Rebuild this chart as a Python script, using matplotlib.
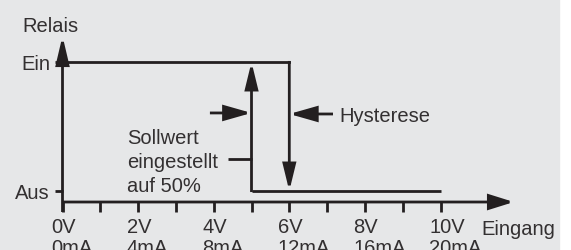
import matplotlib
matplotlib.use("Agg")
import matplotlib.pyplot as plt
from matplotlib.patches import FancyArrowPatch, Rectangle

# data
volt_ticks = [0, 1, 2, 3, 4, 5, 6, 7, 8, 9, 10]
label_volts = [0, 2, 4, 6, 8, 10]
v_labels = ["0V", "2V", "4V", "6V", "8V", "10V"]
ma_labels = ["0mA", "4mA", "8mA", "12mA", "16mA", "20mA"]
level_names = ["Aus", "Ein"]
level_values = [0, 1]
setpoint = 5        # Sollwert 50%
switch_off = 6      # setpoint + hysteresis
input_max = 10

ink = "#231f20"
txt = "#333031"
gray = "#e6e7e8"
plt.rcParams['font.family'] = ['Liberation Sans', 'DejaVu Sans']
fs = 14.5

fig = plt.figure(figsize=(5.71, 2.51), dpi=100, facecolor="white")
fig.patches.append(Rectangle((0, 0), 559 / 571, 1, transform=fig.transFigure,
                             color=gray, zorder=-5))
ax = fig.add_axes([0, 0, 1, 1])
ax.set_zorder(2)
ax.set_facecolor("none")
ax.axis("off")
ax.set_xlim(-62.5 / 37.8, (571 - 62.5) / 37.8)
ax.set_ylim(-59 / 129, 192 / 129)

lw = 2.0
ax_y = -0.0853
tick_low = -0.1628


def arrow(p0, p1, hl=16, hw=4):
    a = FancyArrowPatch(p0, p1, arrowstyle="-|>,head_length=%g,head_width=%g" % (hl, hw),
                        mutation_scale=1, shrinkA=0, shrinkB=0, lw=lw,
                        color=ink, joinstyle="miter", capstyle="butt")
    ax.add_patch(a)


def label(x, y, s, **kw):
    ax.text(x, y, s, fontsize=fs, color=txt, **kw)


# axes
arrow((0, tick_low), (0, 1.2016), hl=17, hw=4)
arrow((0, ax_y), (11.94, ax_y), hl=15, hw=4.7)
for v in volt_ticks:
    ax.plot([v, v], [ax_y, tick_low], color=ink, lw=lw, solid_capstyle="butt")
for lv, name in zip(level_values, level_names):
    ax.plot([-0.198, 0], [lv, lv], color=ink, lw=lw, solid_capstyle="butt")
    label(-0.33, lv - 0.058, name, ha="right", va="baseline")

for v, vl, ml in zip(label_volts, v_labels, ma_labels):
    label(v - 0.3, -0.318, vl, ha="left", va="baseline")
    label(v - 0.3, -0.481, ml, ha="left", va="baseline")

label(-1.071, 1.238, "Relais", ha="left", va="baseline")
label(11.07, -0.333, "Eingang", ha="left", va="baseline")

# relay characteristic
ax.plot([0, switch_off], [1, 1], color=ink, lw=lw, solid_joinstyle="miter")
ax.plot([setpoint, input_max], [0, 0], color=ink, lw=lw, solid_capstyle="butt")
arrow((setpoint, 0 - 0.008), (setpoint, 1), hl=16, hw=3.9)
arrow((switch_off, 1 + 0.008), (switch_off, 0), hl=16, hw=3.9)

# hysteresis markers
arrow((3.90, 0.605), (setpoint, 0.605), hl=16.5, hw=4.7)
arrow((7.156, 0.597), (switch_off, 0.597), hl=16.5, hw=4.7)
label(7.315, 0.543, "Hysterese", ha="left", va="baseline")

ax.plot([4.378, setpoint], [0.248, 0.248], color=ink, lw=lw, solid_capstyle="butt")
for i, line in enumerate(["Sollwert", "eingestellt", "auf 50%"]):
    label(1.706, 0.372 - i * 0.186, line, ha="left", va="baseline")

fig.savefig("out.png", dpi=100, facecolor=fig.get_facecolor())
